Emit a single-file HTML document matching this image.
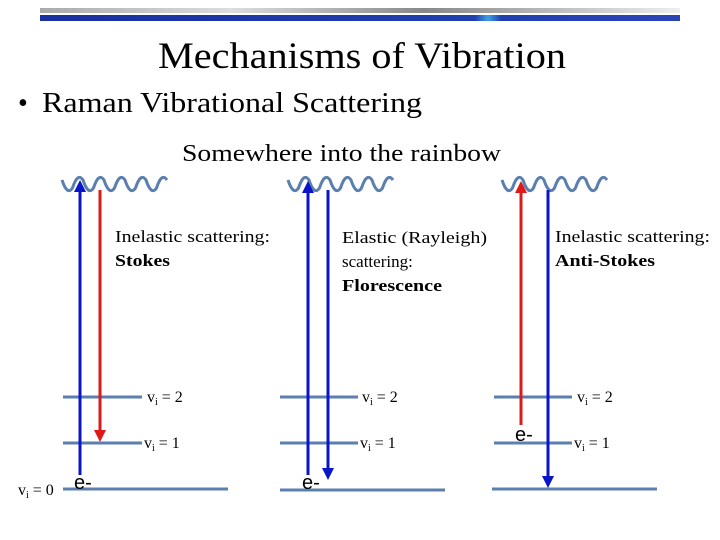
<!DOCTYPE html>
<html><head><meta charset="utf-8"><style>
html,body{margin:0;padding:0;background:#fff;}
svg{display:block;font-family:"Liberation Serif",serif;}
</style></head><body>
<svg width="720" height="540" viewBox="0 0 720 540">
<defs>
<linearGradient id="g1" x1="0" x2="1"><stop offset="0" stop-color="#aaa"/><stop offset="0.3" stop-color="#ddd"/><stop offset="0.6" stop-color="#888"/><stop offset="1" stop-color="#eee"/></linearGradient>
<linearGradient id="g2" x1="0" x2="1"><stop offset="0" stop-color="#1a2fa0"/><stop offset="0.68" stop-color="#2040b0"/><stop offset="0.7" stop-color="#40a0e0"/><stop offset="0.72" stop-color="#2040b0"/><stop offset="1" stop-color="#2a44b8"/></linearGradient>
<marker id="ab" viewBox="0 0 10 10" refX="5" refY="5" markerWidth="4" markerHeight="4" orient="auto-start-reverse"><path d="M0,0L10,5L0,10z" fill="#0a14c8"/></marker>
<marker id="ar" viewBox="0 0 10 10" refX="5" refY="5" markerWidth="4" markerHeight="4" orient="auto-start-reverse"><path d="M0,0L10,5L0,10z" fill="#e01818"/></marker>
</defs>
<rect x="40" y="8" width="640" height="5" fill="url(#g1)"/>
<rect x="40" y="15" width="640" height="6" fill="url(#g2)"/>
<text x="362" y="68" font-size="37" text-anchor="middle" textLength="408" lengthAdjust="spacingAndGlyphs">Mechanisms of Vibration</text>
<text x="18" y="112" font-size="28">•</text>
<text x="42" y="112" font-size="28" textLength="380" lengthAdjust="spacingAndGlyphs">Raman Vibrational Scattering</text>
<text x="182" y="161" font-size="24" textLength="319" lengthAdjust="spacingAndGlyphs">Somewhere into the rainbow</text>

<g stroke="#5b7fae" stroke-width="3" fill="none">
<path d="M62,180 q5.25,16 10.5,8 q5.25,-16 10.5,-8 q5.25,16 10.5,8 q5.25,-16 10.5,-8 q5.25,16 10.5,8 q5.25,-16 10.5,-8 q5.25,16 10.5,8 q5.25,-16 10.5,-8 q5.25,16 10.5,8 q5.25,-16 10.5,-8"/>
<path d="M288,180 q5.25,16 10.5,8 q5.25,-16 10.5,-8 q5.25,16 10.5,8 q5.25,-16 10.5,-8 q5.25,16 10.5,8 q5.25,-16 10.5,-8 q5.25,16 10.5,8 q5.25,-16 10.5,-8 q5.25,16 10.5,8 q5.25,-16 10.5,-8"/>
<path d="M502,180 q5.25,16 10.5,8 q5.25,-16 10.5,-8 q5.25,16 10.5,8 q5.25,-16 10.5,-8 q5.25,16 10.5,8 q5.25,-16 10.5,-8 q5.25,16 10.5,8 q5.25,-16 10.5,-8 q5.25,16 10.5,8 q5.25,-16 10.5,-8"/>
</g>

<g stroke="#5b7fae" stroke-width="3">
<line x1="63" y1="397" x2="142" y2="397"/><line x1="63" y1="443" x2="142" y2="443"/><line x1="63" y1="489" x2="228" y2="489"/>
<line x1="280" y1="397" x2="358" y2="397"/><line x1="280" y1="443" x2="358" y2="443"/><line x1="280" y1="490" x2="445" y2="490"/>
<line x1="494" y1="397" x2="572" y2="397"/><line x1="494" y1="443" x2="572" y2="443"/><line x1="492" y1="489" x2="657" y2="489"/>
</g>

<g stroke-width="3" fill="none">
<line x1="80" y1="475" x2="80" y2="186" stroke="#0a14c8" marker-end="url(#ab)"/>
<line x1="100" y1="190" x2="100" y2="436" stroke="#d81c1c" marker-end="url(#ar)"/>
<line x1="308" y1="475" x2="308" y2="187" stroke="#0a14c8" marker-end="url(#ab)"/>
<line x1="328" y1="190" x2="328" y2="474" stroke="#0a14c8" marker-end="url(#ab)"/>
<line x1="521" y1="425" x2="521" y2="187" stroke="#d81c1c" marker-end="url(#ar)"/>
<line x1="548" y1="190" x2="548" y2="482" stroke="#0a14c8" marker-end="url(#ab)"/>
</g>

<g font-size="17">
<text x="115" y="242" textLength="155" lengthAdjust="spacingAndGlyphs">Inelastic scattering:</text>
<text x="115" y="266" font-weight="bold" textLength="55" lengthAdjust="spacingAndGlyphs">Stokes</text>
<text x="342" y="243" textLength="145" lengthAdjust="spacingAndGlyphs">Elastic (Rayleigh)</text>
<text x="342" y="267">scattering:</text>
<text x="342" y="291" font-weight="bold" textLength="100" lengthAdjust="spacingAndGlyphs">Florescence</text>
<text x="555" y="242" textLength="155" lengthAdjust="spacingAndGlyphs">Inelastic scattering:</text>
<text x="555" y="266" font-weight="bold" textLength="100" lengthAdjust="spacingAndGlyphs">Anti-Stokes</text>
</g>

<g font-size="16">
<text x="147" y="402">v<tspan font-size="10" dy="3">i</tspan><tspan dy="-3"> = 2</tspan></text>
<text x="144" y="448">v<tspan font-size="10" dy="3">i</tspan><tspan dy="-3"> = 1</tspan></text>
<text x="18" y="495">v<tspan font-size="10" dy="3">i</tspan><tspan dy="-3"> = 0</tspan></text>
<text x="362" y="402">v<tspan font-size="10" dy="3">i</tspan><tspan dy="-3"> = 2</tspan></text>
<text x="360" y="448">v<tspan font-size="10" dy="3">i</tspan><tspan dy="-3"> = 1</tspan></text>
<text x="577" y="402">v<tspan font-size="10" dy="3">i</tspan><tspan dy="-3"> = 2</tspan></text>
<text x="574" y="448">v<tspan font-size="10" dy="3">i</tspan><tspan dy="-3"> = 1</tspan></text>
</g>
<g font-size="20" font-family="Liberation Sans, sans-serif">
<text x="74" y="489">e-</text>
<text x="302" y="489">e-</text>
<text x="515" y="441">e-</text>
</g>
</svg>
</body></html>
